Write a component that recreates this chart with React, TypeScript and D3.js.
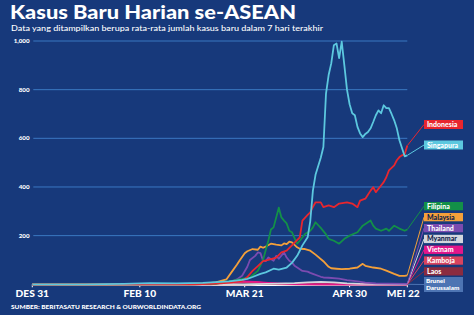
import React from "react";
import * as d3 from "d3";

// ---- data (day offsets from 31 Dec 2019, 7-day average new cases) ----
const tickLabels = ["DES 31", "FEB 10", "MAR 21", "APR 30", "MEI 22"];
const tickDays = [0, 41, 81, 121, 143];
const yTicks = [200, 400, 600, 800, 1000];

const sgDays = [0, 20, 35, 45, 55, 65, 75, 80, 82, 84, 87, 89, 92, 94, 97, 99, 101, 102, 103, 105, 106, 107, 108, 110, 111, 112, 113, 114, 115, 116, 117, 118, 119, 120, 121, 122, 123, 124, 125, 126, 127, 128, 129, 130, 131, 132, 133, 134, 135, 136, 137, 138, 139, 140, 141, 142, 143];
const sgValues = [0, 0, 2, 5, 4, 6, 12, 18, 22, 30, 43, 49, 64, 60, 69, 88, 117, 138, 160, 193, 260, 385, 450, 520, 564, 784, 860, 908, 983, 990, 930, 997, 900, 800, 740, 703, 695, 647, 620, 605, 618, 626, 641, 667, 695, 715, 703, 736, 724, 724, 700, 674, 641, 592, 559, 526, 530];

const idDays = [0, 60, 62, 65, 68, 72, 76, 80, 82, 84, 86, 88, 90, 93, 95, 97, 99, 102, 103, 105, 106, 107, 108, 110, 111, 113, 115, 117, 120, 122, 124, 125, 127, 129, 130, 131, 133, 134, 135, 136, 138, 139, 140, 141, 142, 143];
const idValues = [0, 0, 0, 1, 2, 4, 8, 14, 30, 55, 75, 95, 100, 110, 131, 138, 160, 193, 262, 285, 296, 318, 337, 337, 317, 324, 317, 332, 337, 332, 317, 344, 352, 385, 399, 379, 406, 420, 440, 468, 489, 510, 523, 530, 535, 570];

const phDays = [0, 60, 70, 76, 83, 86, 88, 89, 90, 91, 92, 94, 95, 96, 97, 98, 99, 100, 101, 102, 104, 106, 107, 108, 110, 112, 113, 115, 117, 119, 121, 124, 126, 129, 130, 131, 133, 135, 136, 138, 140, 142, 143];
const phValues = [0, 0, 2, 14, 28, 55, 100, 140, 179, 225, 234, 315, 275, 262, 250, 220, 214, 190, 167, 179, 207, 220, 234, 255, 232, 205, 187, 179, 167, 187, 200, 214, 241, 262, 241, 229, 220, 229, 220, 241, 229, 220, 225];

const myDays = [0, 40, 50, 60, 66, 70, 72, 74, 76, 78, 79, 81, 82, 84, 86, 87, 88, 89, 91, 93, 95, 96, 97, 98, 99, 101, 102, 104, 106, 108, 111, 113, 114, 116, 118, 121, 124, 126, 127, 130, 133, 135, 138, 140, 142, 143];
const myValues = [0, 1, 1, 2, 4, 8, 14, 20, 50, 80, 97, 128, 136, 145, 142, 155, 150, 155, 167, 163, 160, 168, 165, 175, 172, 152, 146, 145, 138, 122, 95, 72, 66, 64, 62, 64, 69, 84, 76, 69, 64, 56, 43, 35, 35, 37];

const thDays = [0, 12, 30, 50, 65, 72, 76, 78, 80, 82, 83, 85, 86, 87, 88, 89, 90, 92, 93, 94, 96, 97, 98, 99, 100, 102, 103, 105, 106, 107, 110, 111, 113, 117, 120, 124, 127, 131, 136, 143];
const thValues = [0, 1, 1, 2, 3, 6, 12, 20, 35, 72, 100, 117, 131, 128, 97, 95, 110, 97, 117, 105, 131, 110, 97, 90, 76, 62, 55, 52, 47, 43, 31, 28, 27, 23, 17, 12, 7, 4, 3, 2];

const mmDays = [0, 80, 90, 100, 105, 110, 115, 120, 125, 143];
const mmValues = [0, 0, 2, 5, 8, 10, 8, 4, 2, 1];

const vnDays = [0, 30, 45, 65, 75, 80, 85, 90, 95, 100, 110, 143];
const vnValues = [0, 1, 1, 2, 8, 12, 10, 6, 3, 1, 0, 0];

const khDays = [0, 70, 76, 82, 86, 90, 95, 143];
const khValues = [0, 1, 5, 10, 8, 4, 1, 0];

const laDays = [0, 83, 86, 92, 100, 143];
const laValues = [0, 0, 1, 1, 0, 0];

const bnDays = [0, 68, 72, 76, 80, 84, 90, 95, 143];
const bnValues = [0, 0, 4, 8, 10, 6, 3, 1, 0];

const seriesNames = ["Brunei Darussalam", "Laos", "Kamboja", "Vietnam", "Myanmar", "Thailand", "Malaysia", "Filipina", "Indonesia", "Singapura"];
const seriesColors = ["#4d74b3", "#8b2b3f", "#d9435e", "#e3168a", "#d3d6dd", "#7b4bb0", "#f4a03a", "#139048", "#e8262e", "#5cc8df"];
const seriesDays = [bnDays, laDays, khDays, vnDays, mmDays, thDays, myDays, phDays, idDays, sgDays];
const seriesValues = [bnValues, laValues, khValues, vnValues, mmValues, thValues, myValues, phValues, idValues, sgValues];

const START = new Date(2019, 11, 31);
const BG = "#17397b";

export default function App() {
  const x = d3
    .scaleTime()
    .domain([START, d3.timeDay.offset(START, 143)])
    .range([32.3, 407.3]);
  const y = d3.scaleLinear().domain([0, 1000]).range([284.3, 41]);
  const dayX = (d: number) => x(d3.timeDay.offset(START, d));

  const line = d3
    .line<[number, number]>()
    .x((p) => dayX(p[0]))
    .y((p) => y(p[1]))
    .curve(d3.curveLinear);

  const series = seriesNames.map((name, i) => ({
    name,
    color: seriesColors[i],
    pts: seriesDays[i].map((d, j) => [d, seriesValues[i][j]] as [number, number]),
  }));

  const boxX = 424;
  const boxW = 39;
  const labelBoxes: Record<string, { top: number; h: number; dark?: boolean }> = {
    Indonesia: { top: 120, h: 9 },
    Singapura: { top: 140.5, h: 9 },
    Filipina: { top: 202, h: 8.3 },
    Malaysia: { top: 213, h: 8.3, dark: true },
    Thailand: { top: 224, h: 8.3 },
    Myanmar: { top: 234.8, h: 8.3, dark: true },
    Vietnam: { top: 245.6, h: 8.3 },
    Kamboja: { top: 256.4, h: 8.3 },
    Laos: { top: 267.2, h: 8.3 },
    "Brunei Darussalam": { top: 277, h: 15 },
  };

  const font = "Lato, 'Open Sans', sans-serif";

  return (
    <svg
      width={474}
      height={315}
      style={{ position: "absolute", left: 0, top: 0, display: "block" }}
      fontFamily={font}
    >
      <rect width={474} height={315} fill={BG} />
      <text
        x={10}
        y={18.8}
        fill="#fff"
        fontSize={19}
        fontWeight={900}
        textLength={286}
        lengthAdjust="spacingAndGlyphs"
      >
        Kasus Baru Harian se-ASEAN
      </text>
      <text
        x={11}
        y={30.6}
        fill="#fff"
        fontSize={7.8}
        fontWeight={500}
        textLength={312}
        lengthAdjust="spacingAndGlyphs"
      >
        Data yang ditampilkan berupa rata-rata jumlah kasus baru dalam 7 hari terakhir
      </text>

      {/* grid */}
      {yTicks.map((t) => (
        <g key={t}>
          <line x1={33.3} x2={407.3} y1={y(t)} y2={y(t)} stroke="#3b78c2" strokeWidth={1} />
          <text
            x={29.5}
            y={y(t)}
            dy="0.35em"
            textAnchor="end"
            fill="#fff"
            fontSize={6.2}
            fontWeight={900}
          >
            {d3.format(",")(t)}
          </text>
        </g>
      ))}

      {/* axis */}
      <line x1={32.3} x2={407.3} y1={y(0) + 1} y2={y(0) + 1} stroke="#fff" strokeWidth={1.2} />
      {tickDays.map((d, i) => (
        <g key={d}>
          <line x1={dayX(d)} x2={dayX(d)} y1={y(0)} y2={y(0) + 3} stroke="#fff" strokeWidth={1} />
          <text
            x={dayX(d) + (i === tickDays.length - 1 ? -4 : 0)}
            y={296.7}
            textAnchor="middle"
            fill="#fff"
            fontSize={10.2}
            fontWeight={900}
          >
            {tickLabels[i]}
          </text>
        </g>
      ))}

      {/* lines */}
      {series.map((s) => (
        <path
          key={s.name}
          d={line(s.pts) || ""}
          fill="none"
          stroke={s.color}
          strokeWidth={1.8}
          strokeLinejoin="round"
        />
      ))}

      {/* connectors + labels */}
      {series.map((s) => {
        const b = labelBoxes[s.name];
        const last = s.pts[s.pts.length - 1];
        const lx = dayX(last[0]);
        const ly = y(last[1]);
        const cy = b.top + b.h / 2;
        const isBrunei = s.name === "Brunei Darussalam";
        return (
          <g key={s.name}>
            <line x1={lx} y1={ly} x2={boxX} y2={cy} stroke={s.color} strokeWidth={1} />
            <rect x={boxX} y={b.top} width={boxW} height={b.h} fill={s.color} />
            {isBrunei ? (
              <text fill="#fff" fontSize={6.4} fontWeight={900}>
                <tspan x={boxX + 2} y={b.top + 6}>Brunei</tspan>
                <tspan x={boxX + 2} y={b.top + 13}>Darussalam</tspan>
              </text>
            ) : (
              <text
                x={boxX + 3}
                y={cy}
                dy="0.36em"
                fill={b.dark ? "#10204a" : "#fff"}
                fontSize={7}
                fontWeight={900}
              >
                {s.name}
              </text>
            )}
          </g>
        );
      })}

      <text
        x={11}
        y={309.3}
        fill="#fff"
        fontSize={6.1}
        fontWeight={900}
        textLength={190}
        lengthAdjust="spacingAndGlyphs"
      >
        SUMBER: BERITASATU RESEARCH &amp; OURWORLDINDATA.ORG
      </text>
    </svg>
  );
}
